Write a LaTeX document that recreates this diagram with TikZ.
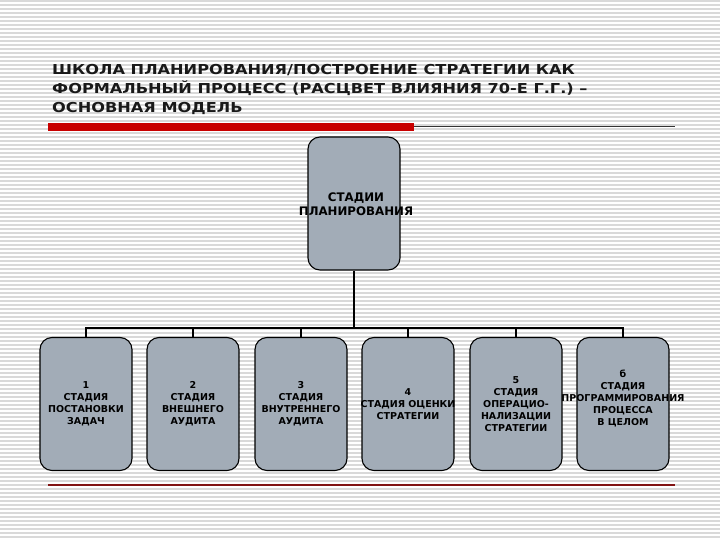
\documentclass[tikz,border=0pt]{standalone}
\usepackage{fontspec}
\setmainfont{DejaVu Sans}
\definecolor{stagefill}{RGB}{162,172,183}
\definecolor{barred}{RGB}{200,0,0}
\definecolor{rulered}{RGB}{130,20,20}
\definecolor{titleink}{RGB}{25,25,25}

\begin{document}
\begin{tikzpicture}[x=1pt,y=-1pt,
    stripe/.style={draw=black!15,line width=1.2pt},
    stagebox/.style={draw=black,line width=1.1pt,fill=stagefill,
      rounded corners=12pt,minimum width=92pt,minimum height=133pt,inner sep=0pt},
    stagetext/.style={font=\bfseries\fontsize{9.5}{12}\selectfont,align=center,inner sep=0pt},
    titletext/.style={font=\bfseries\fontsize{13.7}{19}\selectfont,text=titleink,
      align=left,inner sep=0pt,xscale=1.18,transform shape}]
  \useasboundingbox (0,0) rectangle (720,540);
  \foreach \y in {1,5,...,537}
    \draw[stripe] (0,\y) -- (720,\y);
  \coordinate (T) at (52,64.5);
  \node [titletext,anchor=north west] (title) at (T)
    {ШКОЛА ПЛАНИРОВАНИЯ/ПОСТРОЕНИЕ СТРАТЕГИИ КАК\\
     ФОРМАЛЬНЫЙ ПРОЦЕСС (РАСЦВЕТ ВЛИЯНИЯ 70-Е Г.Г.) –\\
     ОСНОВНАЯ МОДЕЛЬ};
  \coordinate (R0) at (48,123);
  \coordinate (R1) at (414,131);
  \coordinate (L0) at (414,126.5);
  \coordinate (L1) at (675,126.5);
  \fill [barred] (R0) rectangle (R1);
  \draw [black!80,line width=0.8pt] (L0) -- (L1);
  \coordinate (B0) at (48,485);
  \coordinate (B1) at (675,485);
  \draw [rulered,line width=1.2pt] (B0) -- (B1);
  \node [stagebox] (top) at (354,203.5) {};
  \node [stagetext,font=\bfseries\fontsize{11.8}{14.5}\selectfont] (toptext) at (356,204)
    {СТАДИИ\\ПЛАНИРОВАНИЯ};
  \coordinate (bus) at (354,328);
  \node [stagebox] (s1) at (86,404) {};
  \node [stagebox] (s2) at (193,404) {};
  \node [stagebox] (s3) at (301,404) {};
  \node [stagebox] (s4) at (408,404) {};
  \node [stagebox] (s5) at (516,404) {};
  \node [stagebox] (s6) at (623,404) {};
  \node [stagetext] (t1) at (s1) {1\\СТАДИЯ\\ПОСТАНОВКИ\\ЗАДАЧ};
  \node [stagetext] (t2) at (s2) {2\\СТАДИЯ\\ВНЕШНЕГО\\АУДИТА};
  \node [stagetext] (t3) at (s3) {3\\СТАДИЯ\\ВНУТРЕННЕГО\\АУДИТА};
  \node [stagetext] (t4) at (s4) {4\\СТАДИЯ ОЦЕНКИ\\СТРАТЕГИИ};
  \node [stagetext] (t5) at (s5) {5\\СТАДИЯ\\ОПЕРАЦИО-\\НАЛИЗАЦИИ\\СТРАТЕГИИ};
  \node [stagetext] (t6) at ([yshift=6]s6.center) {б\\СТАДИЯ\\ПРОГРАММИРОВАНИЯ\\ПРОЦЕССА\\В ЦЕЛОМ};
  \draw [line width=1.1pt] (top) -- (bus);
  \foreach \i in {1,...,6}
    \draw [line width=1.1pt] (bus) -| (s\i.north);
\end{tikzpicture}
\end{document}
